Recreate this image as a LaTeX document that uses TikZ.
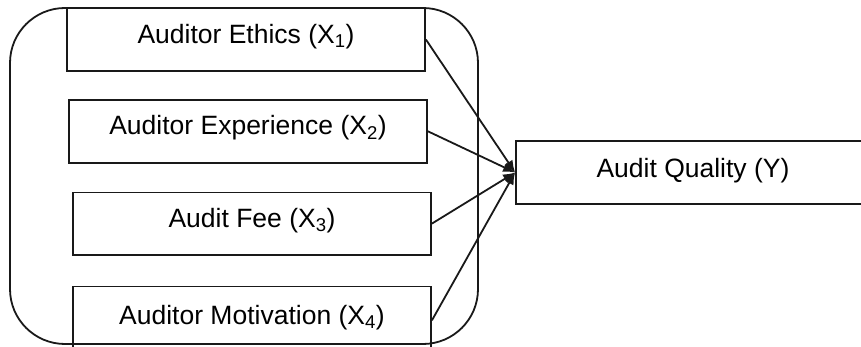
\documentclass[tikz,border=0pt]{standalone}
\usepackage{fontspec}
\setmainfont{Liberation Sans}
\usetikzlibrary{arrows.meta,positioning}
\definecolor{linecolor}{RGB}{25,25,25}

\begin{document}
\begin{tikzpicture}[
    x=1pt, y=-1pt,
    node distance=27pt,
    every node/.style={font=\fontsize{26.5}{31}\selectfont},
    factor/.style={
        rectangle, draw=linecolor, line width=1.8pt,
        minimum width=358pt, minimum height=63pt,
        text depth=12pt, inner sep=0pt
    },
    outcome/.style={
        rectangle, draw=linecolor, line width=1.8pt,
        minimum width=354pt, minimum height=63pt,
        text depth=10pt, inner sep=0pt
    },
    arrow/.style={-{Latex[length=12pt,width=10pt]}, line width=1.8pt, draw=linecolor}
]
\useasboundingbox (0,0) rectangle (861,347);
\clip (0,0) rectangle (861,347);

% Group frame
\draw[linecolor, line width=1.8pt, rounded corners=55pt] (10,8) rectangle (478,344);

% Independent variables
\node[factor] (ethics) at (246,39.5) {Auditor Ethics (X\textsubscript{1})};
\node[factor, below=27pt of ethics, xshift=2pt] (experience) {Auditor Experience (X\textsubscript{2})};
\node[factor, below=28pt of experience, xshift=4pt, minimum height=62pt] (fee) {Audit Fee (X\textsubscript{3})};
\node[factor, below=30pt of fee, minimum height=68pt] (motivation) {Auditor Motivation (X\textsubscript{4})};

% Dependent variable
\node[outcome] (quality) at (693,172.5) {Audit Quality (Y)};

% Arrows
\draw[arrow] (ethics.east) -- (quality.west);
\draw[arrow] (experience.east) -- (quality.west);
\draw[arrow] (fee.east) -- (quality.west);
\draw[arrow] (motivation.east) -- (quality.west);

\end{tikzpicture}
\end{document}
